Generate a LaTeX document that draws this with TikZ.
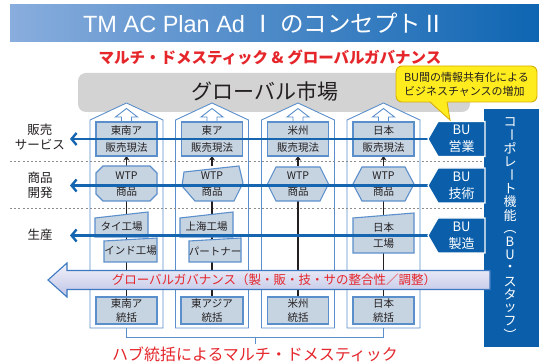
\documentclass[tikz,border=0pt]{standalone}
\usepackage{fontspec}
\setmainfont{Noto Sans CJK JP}
\newfontfamily\arialf{Liberation Sans}
\usetikzlibrary{arrows.meta,shapes.symbols}
\definecolor{titleL}{HTML}{89ADDD}
\definecolor{titleR}{HTML}{0E65B2}
\definecolor{jred}{HTML}{E5262B}
\definecolor{mktgray}{HTML}{D3D3D3}
\definecolor{colline}{HTML}{5B8FCB}
\definecolor{boxfill}{HTML}{C6D4E2}
\definecolor{boxline}{HTML}{5B8FCB}
\definecolor{lineblue}{HTML}{1565B0}
\definecolor{bandblue}{HTML}{0B5FAA}
\definecolor{txtc}{HTML}{231F20}
\definecolor{govtop}{HTML}{F2F2FA}
\definecolor{govbot}{HTML}{BFC3E6}
\definecolor{govline}{HTML}{3C79C2}
\definecolor{calfill}{HTML}{FFEC1E}
\definecolor{calline}{HTML}{D8B000}
\definecolor{dashc}{HTML}{8C8C8C}
\pgfdeclarelayer{colbg}
\pgfdeclarelayer{blk}
\pgfdeclarelayer{top}
\pgfsetlayers{colbg,blk,main,top}
\begin{document}
\begin{tikzpicture}[x=1pt,y=-1pt,
  boxst/.style={draw=boxline,fill=boxfill,line width=1.1pt},
  colst/.style={draw=colline,fill=white,line width=0.9pt},
  lbl/.style={text=txtc,inner sep=0pt,outer sep=0pt,align=center},
  boxtxt/.style={lbl,font=\fontsize{10.5}{16}\selectfont},
  blkline/.style={draw=txtc,line width=1.4pt},
  bline/.style={draw=lineblue,line width=2.4pt,-{Straight Barb[length=5pt,width=12pt]}},
  dashline/.style={draw=dashc,line width=0.7pt,dash pattern=on 2pt off 2.2pt},
  bust/.style={shape=signal,signal to=west,signal pointer angle=120,fill=bandblue,draw=white,line width=1.2pt,minimum width=57pt,minimum height=35pt,inner sep=0pt,outer sep=0pt,text=white,align=center,font=\fontsize{13}{17}\selectfont},
  redtxt/.style={text=jred,inner sep=0pt,outer sep=0pt}
]
\useasboundingbox (0,0) rectangle (539,363);
\begin{pgfonlayer}{colbg}
\fill[white] (0,0) rectangle (539,363);
\node[fill=mktgray,rounded corners=8pt,minimum width=392pt,minimum height=39pt,inner sep=0pt] (market) at (274,92.5) {};
\foreach \x in {126.5,212,298,383.5}{
  \draw[colst] (\x-36.5,328) -- (\x-36.5,120) -- (\x,103) -- (\x+36.5,120) -- (\x+36.5,328) -- cycle;
  \draw[colst] (\x-5,122) -- (\x-5,117) -- (\x-11,117) -- (\x,108.5) -- (\x+11,117) -- (\x+5,117) -- (\x+5,122);
}
\coordinate (dA1) at (10,161); \coordinate (dA2) at (484,161);
\coordinate (dB1) at (10,208); \coordinate (dB2) at (484,208);
\draw[dashline] (dA1) -- (dA2);
\draw[dashline] (dB1) -- (dB2);
\end{pgfonlayer}

% title
\node[left color=titleL,right color=titleR,minimum width=529pt,minimum height=37pt,inner sep=0pt] (bar) at (274.5,23.5) {};
\node[text=white,font=\fontsize{23.5}{24}\selectfont,inner sep=0pt] (title) at (264,23.5) {{\arialf TM AC Plan Ad }Ⅰ のコンセプトⅡ};
\node[redtxt,font=\fontsize{15.5}{16}\selectfont\bfseries] (subtitle) at (270,57.5) {マルチ・ドメスティック \& グローバルガバナンス};
\node[lbl,font=\fontsize{21}{21}\selectfont] (markettxt) at (265,92) {グローバル市場};

% sales boxes
\node[boxst,boxtxt,font=\fontsize{10.5}{17}\selectfont,minimum width=61pt,minimum height=34pt] (s1) at (126.5,139) {東南ア\\販売現法};
\node[boxst,boxtxt,font=\fontsize{10.5}{17}\selectfont,minimum width=61pt,minimum height=34pt] (s2) at (212,139) {東ア\\販売現法};
\node[boxst,boxtxt,font=\fontsize{10.5}{17}\selectfont,minimum width=61pt,minimum height=34pt] (s3) at (298,139) {米州\\販売現法};
\node[boxst,boxtxt,font=\fontsize{10.5}{17}\selectfont,minimum width=61pt,minimum height=34pt] (s4) at (383.5,139) {日本\\販売現法};

% WTP shapes
\filldraw[boxst] (103,166) -- (150,166) -- (157,173) -- (157,194) -- (150,201) -- (103,201) -- (96,194) -- (96,173) -- cycle;
\filldraw[boxst] (184,172) -- (239,166) -- (243,183) -- (234,201) -- (195,201) -- (182,186) -- cycle;
\filldraw[boxst] (276,167) -- (320,167) -- (328.5,184) -- (320,201) -- (276,201) -- (267.5,184) -- cycle;
\filldraw[boxst] (362,167) -- (405,167) -- (414,184) -- (405,201) -- (362,201) -- (353,184) -- cycle;
\foreach \x [count=\i] in {126.5,212,298,383.5}
  \node[boxtxt,minimum width=61pt,minimum height=35pt] (w\i) at (\x,184) {WTP\\商品};

% factories
\filldraw[boxst] (95,218) -- (148,212) -- (148,237) -- (95,237) -- cycle;
\node[boxtxt] (f1a) at (121.5,227) {タイ工場};
\filldraw[boxst] (104,241) -- (157,238) -- (157,262) -- (104,262) -- cycle;
\node[boxtxt] (f1b) at (130.5,251) {インド工場};
\filldraw[boxst] (180,218) -- (233,212) -- (233,237) -- (180,237) -- cycle;
\node[boxtxt] (f2a) at (206.5,227) {上海工場};
\filldraw[boxst] (189,241) -- (241,238) -- (241,262) -- (189,262) -- cycle;
\node[boxtxt] (f2b) at (215,251) {パートナー};
\filldraw[boxst] (353,218) -- (414,213) -- (414,253) -- (353,253) -- cycle;
\node[boxtxt] (f4) at (383.5,236) {日本\\工場};

% hubs
\node[boxst,boxtxt,font=\fontsize{10.5}{14.5}\selectfont,minimum width=61pt,minimum height=27pt] (h1) at (126.5,310.5) {東南ア\\統括};
\node[boxst,boxtxt,font=\fontsize{10.5}{14.5}\selectfont,minimum width=62pt,minimum height=27pt] (h2) at (212,310.5) {東アジア\\統括};
\node[boxst,boxtxt,font=\fontsize{10.5}{14.5}\selectfont,minimum width=61pt,minimum height=27pt] (h3) at (298,310.5) {米州\\統括};
\node[boxst,boxtxt,font=\fontsize{10.5}{14.5}\selectfont,minimum width=61pt,minimum height=27pt] (h4) at (383.5,310.5) {日本\\統括};

% black connectors
\begin{pgfonlayer}{blk}
\foreach \i in {1,2,3,4}{
  \draw[blkline] (w\i.south) -- (h\i.north);
  \draw[blkline,-{Stealth[length=4.5pt,width=6pt]}] (w\i.north) -- (s\i.south);
}
\end{pgfonlayer}

% corporate band and BU boxes
\begin{pgfonlayer}{top}
\node[fill=bandblue,minimum width=55pt,minimum height=238pt,inner sep=0pt] (band) at (511.5,228) {};
\foreach \c/\r [count=\i] in {コ/0,ー/-90,ポ/0,レ/0,ー/-90,ト/0,機/0,能/0,（/-90,B/0,U/0,・/0,ス/0,タ/0,ッ/0,フ/0,）/-90}
  \node[text=white,inner sep=0pt,font=\fontsize{13}{13}\selectfont,rotate=\r] (v\i) at (510,{122+(\i-1)*13.3}) {\c};
\node[bust] (bu1) at (461.5,139) {BU\\営業};
\node[bust] (bu2) at (461.5,185.5) {BU\\技術};
\node[bust] (bu3) at (461.5,235.5) {BU\\製造};
\end{pgfonlayer}

% left labels
\node[lbl,font=\fontsize{12.5}{15}\selectfont] (lsales) at (40,137.5) {販売\\サービス};
\node[lbl,font=\fontsize{12.5}{15}\selectfont] (ldev) at (40,185) {商品\\開発};
\node[lbl,font=\fontsize{12.5}{15}\selectfont] (lprod) at (40,235) {生産};

% blue BU lines
\coordinate (t1) at (70,139);
\coordinate (t2) at (70,185.5);
\coordinate (t3) at (70,235.5);
\draw[bline] (bu1.west) -- (t1);
\draw[bline] (bu2.west) -- (t2);
\draw[bline] (bu3.west) -- (t3);

% bracket and footer
\coordinate (b1) at (126.5,328);
\coordinate (b4) at (383.5,328);
\coordinate (bm) at (255,337);
\draw[colline,line width=0.9pt] (b1) -- (126.5,337) -- (383.5,337) -- (b4);
\draw[colline,line width=0.9pt] (bm) -- ++(0,7);
\node[redtxt,font=\fontsize{16}{16}\selectfont] (footer) at (255,354.5) {ハブ統括によるマルチ・ドメスティック};

\begin{pgfonlayer}{top}
% governance arrow
\shadedraw[top color=govtop,bottom color=govbot,draw=govline,line width=1.1pt] (490,270.5) -- (67,270.5) -- (67,263) -- (48,280) -- (67,297) -- (67,289.5) -- (490,289.5) -- cycle;
\node[redtxt,font=\fontsize{12.5}{13}\selectfont] (gov) at (274,280) {グローバルガバナンス（製・販・技・サの整合性／調整）};
% callout
\node[fill=calfill,draw=calline,line width=0.9pt,rounded corners=6pt,minimum width=141pt,minimum height=36pt,inner sep=0pt] (callout) at (466.5,84) {};
\fill[calfill] (430,101) -- (450,120) -- (447,101) -- cycle;
\draw[calline,line width=0.9pt] (430,102) -- (450,120) -- (447,102);
\node[lbl,align=left,anchor=west,font=\fontsize{11}{14.5}\selectfont] (calltxt) at (404,84.5) {BU間の情報共有化による\\ビジネスチャンスの増加};
\end{pgfonlayer}
\end{tikzpicture}
\end{document}
